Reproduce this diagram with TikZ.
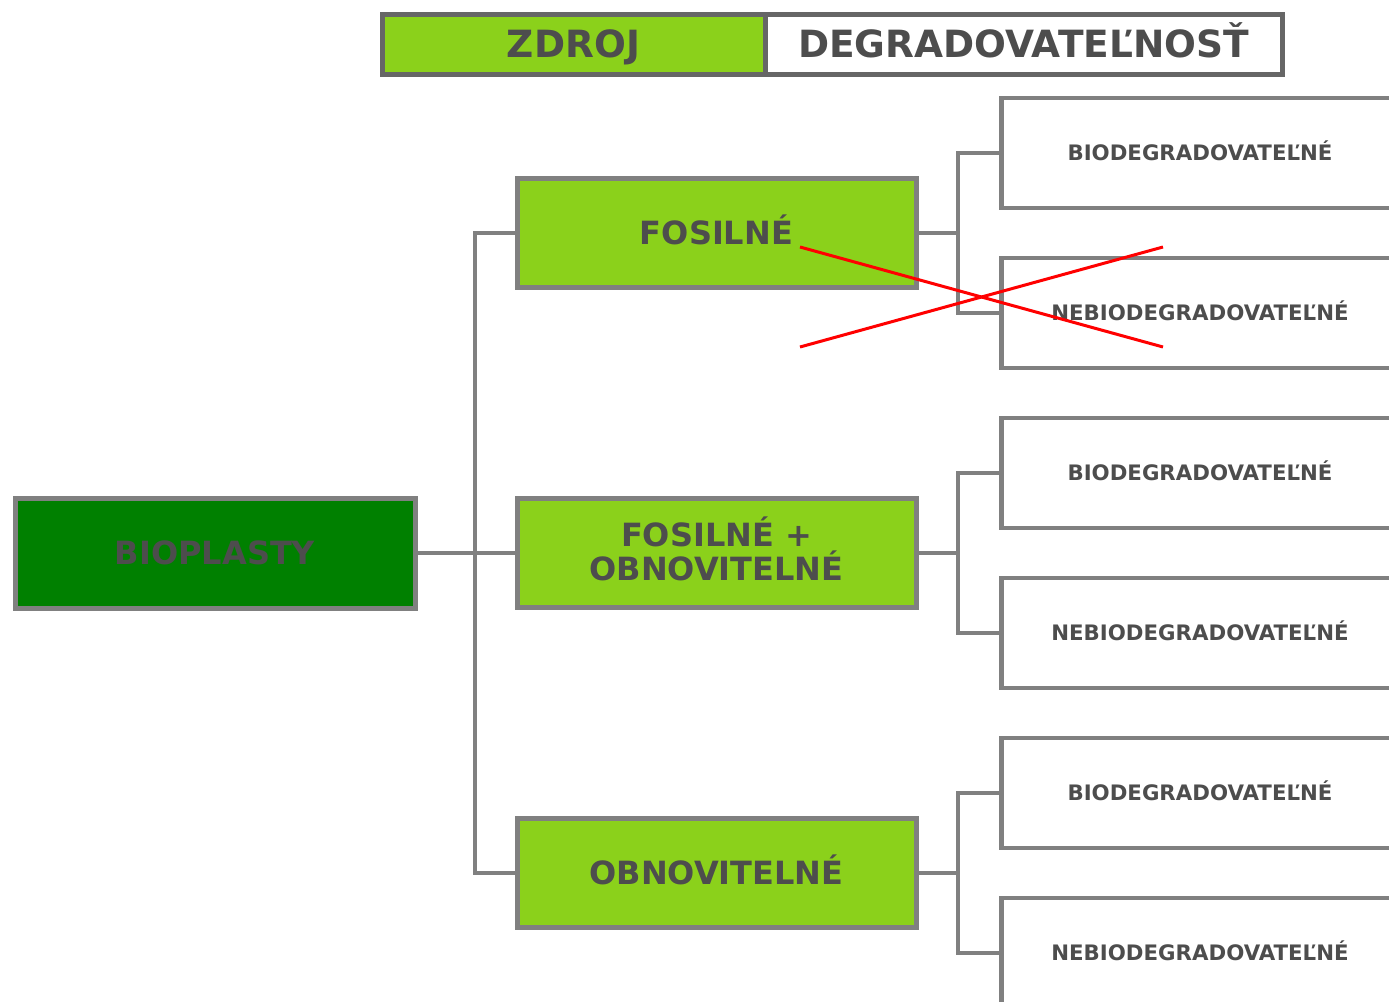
\documentclass[tikz,border=0pt]{standalone}
\usepackage{fontspec}
\setmainfont{DejaVu Sans}
\usepackage{xcolor}
\definecolor{cLeaf}{HTML}{8BD11B}
\definecolor{cRoot}{HTML}{008000}
\definecolor{cLine}{HTML}{808080}
\definecolor{cHead}{HTML}{666666}
\definecolor{cText}{HTML}{4D4D4D}
\definecolor{cCross}{HTML}{FF0000}
\usetikzlibrary{positioning}
\tikzset{
  node-head/.style={draw=cHead,line width=5pt,minimum height=60pt,inner sep=0pt,
    text height=27.4pt,text depth=0pt,text=cText,
    font=\bfseries\fontsize{37.5}{40}\selectfont},
  node-root/.style={draw=cLine,line width=5pt,fill=cRoot,minimum width=400pt,
    minimum height=110pt,text height=23.4pt,text depth=0pt,text=cText,
    font=\bfseries\fontsize{32}{34}\selectfont},
  node-src/.style={draw=cLine,line width=5pt,fill=cLeaf,minimum width=399pt,
    minimum height=109pt,align=center,text=cText,
    font=\bfseries\fontsize{32}{34}\selectfont},
  node-deg/.style={draw=cLine,line width=4.5pt,fill=white,minimum width=397pt,
    minimum height=110pt,text height=15.5pt,text depth=0pt,text=cText,
    font=\bfseries\fontsize{21.3}{24}\selectfont},
  link/.style={draw=cLine,line width=4pt},
  cross/.style={draw=cCross,line width=3pt},
}
\begin{document}
\begin{tikzpicture}[x=1pt,y=-1pt]
  \useasboundingbox (0,0) rectangle (1389,1001);
  \begin{scope}
  \clip (0,0) rectangle (1389,1001);
  % hlavicka
  \node[node-head,fill=cLeaf,minimum width=383pt] (zdroj) at (573.5,44) {ZDROJ};
  \node[node-head,fill=white,minimum width=517pt] (degr) at (1023.5,44) {DEGRADOVATEĽNOSŤ};
  % koren a zdroje
  \node[node-root] (bio) at (215,553) {BIOPLASTY};
  \node[node-src,text height=23.4pt,text depth=0pt] (fos) at (716.5,233) {FOSILNÉ};
  \node[node-src,text depth=8pt] (fobn) at (716.5,553) {FOSILNÉ +\\OBNOVITELNÉ};
  \node[node-src,text height=23.4pt,text depth=0pt] (obn) at (716.5,873) {OBNOVITELNÉ};
  \coordinate (busA) at (475,553);
  \draw[link] (bio.east) -- (fobn.west);
  \draw[link] (fos.west) -| (busA) |- (obn.west);
  % degradovatelnost
  \foreach \src/\y in {fos/153,fobn/473,obn/793}{
    \node[node-deg] (\src-bio) at (1200,\y) {BIODEGRADOVATEĽNÉ};
    \node[node-deg] (\src-neb) at (1200,\y+160) {NEBIODEGRADOVATEĽNÉ};
    \coordinate (\src-bus) at (958,\y+80);
    \draw[link] (\src.east) -- (\src-bus);
    \draw[link] (\src-bio.west) -| (\src-bus) |- (\src-neb.west);
  }
  % preskrtnutie
  \coordinate (xa) at (800,247);
  \coordinate (xb) at (1163,347);
  \coordinate (xc) at (800,347);
  \coordinate (xd) at (1163,247);
  \draw[cross] (xa) -- (xb);
  \draw[cross] (xc) -- (xd);
  \end{scope}
\end{tikzpicture}
\end{document}
